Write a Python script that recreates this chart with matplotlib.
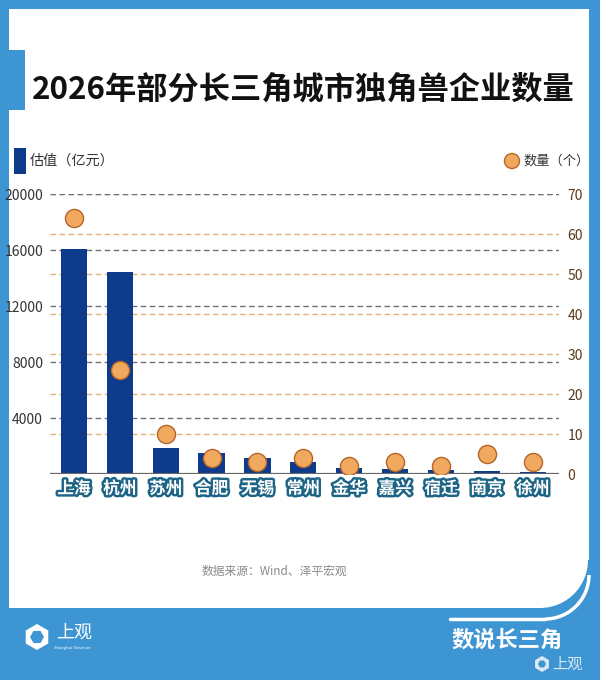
import matplotlib.pyplot as plt
import matplotlib.patheffects as pe
from matplotlib.patches import Rectangle, Circle, Arc, RegularPolygon
from matplotlib.transforms import blended_transform_factory

plt.rcParams['font.family'] = ['Noto Sans CJK SC', 'DejaVu Sans']

cities = ['上海', '杭州', '苏州', '合肥', '无锡', '常州', '金华', '嘉兴', '宿迁', '南京', '徐州']
valuation = [16050, 14400, 1850, 1500, 1150, 870, 430, 360, 290, 220, 150]  # 亿元
counts = [64, 26, 10, 4, 3, 4, 2, 3, 2, 5, 3]  # 个
left_ticks = [4000, 8000, 12000, 16000, 20000]
right_ticks = [0, 10, 20, 30, 40, 50, 60, 70]

BLUE = '#3d95d4'
NAVY = '#0d3a8a'
ORANGE = '#f0a95e'
ORANGE_EDGE = '#b5652a'
GRID_GRAY = '#707070'
GRID_ORANGE = '#e3b27a'

W, H = 600, 680
fig = plt.figure(figsize=(6, 6.8), dpi=100, facecolor=BLUE)

# background layer in pixel coordinates
bg = fig.add_axes([0, 0, 1, 1])
bg.set_xlim(0, W)
bg.set_ylim(H, 0)
bg.axis('off')
bg.set_facecolor(BLUE)
bg.add_patch(Rectangle((9, 9), 531, 599, color='white', lw=0))
bg.add_patch(Rectangle((9, 9), 580, 551, color='white', lw=0))
bg.add_patch(Circle((540, 560), 48, color='white', lw=0))
bg.add_patch(Rectangle((0, 50), 25, 60, color=BLUE, lw=0))
# swoosh under the panel corner
bg.plot([450, 545], [619, 619], color='white', lw=2.5, solid_capstyle='round')
bg.add_patch(Arc((545, 575), 88, 88, theta1=0, theta2=90, color='white', lw=2.5))

bg.text(303, 90, '2026年部分长三角城市独角兽企业数量', ha='center', va='center',
        fontsize=22.5, fontweight='black', color='#111111')

# legends
bg.add_patch(Rectangle((14, 148), 12, 26, color=NAVY, lw=0))
bg.text(30, 161, '估值（亿元）', ha='left', va='center', fontsize=10.2, color='#333333')
bg.add_patch(Circle((512, 161), 7.5, facecolor=ORANGE, edgecolor=ORANGE_EDGE, lw=1))
bg.text(523, 161, '数量（个）', ha='left', va='center', fontsize=9.5, color='#333333')

bg.text(274, 571, '数据来源：Wind、泽平宏观', ha='center', va='center',
        fontsize=8.5, color='#8a8a8a')

# footer
bg.add_patch(RegularPolygon((37, 637), 6, radius=13, color='white', lw=0))
bg.add_patch(RegularPolygon((37, 637), 6, radius=7, orientation=0.5, color=BLUE, lw=0))
bg.text(56, 633, '上观', ha='left', va='center', fontsize=13, color='white')
bg.text(54, 648, 'Shanghai Observer', ha='left', va='center', fontsize=3, color='white')
bg.text(507, 640, '数说长三角', ha='center', va='center', fontsize=16,
        fontweight='bold', color='white')
bg.add_patch(RegularPolygon((542, 664), 6, radius=8, color='#d9e9f5', lw=0))
bg.add_patch(RegularPolygon((542, 664), 6, radius=4, orientation=0.5, color=BLUE, lw=0))
bg.text(552, 664, '上观', ha='left', va='center', fontsize=11, color='#d9e9f5')

# chart
ax = fig.add_axes([50 / W, (H - 474) / H, 509 / W, 280 / H])
ax2 = ax.twinx()
x = list(range(len(cities)))

ax.bar(x, valuation, width=0.57, color=NAVY, zorder=3)
ax2.scatter(x, counts, s=170, facecolor=ORANGE, edgecolor=ORANGE_EDGE, lw=1, zorder=4)

ax.set_xlim(-0.52, 10.57)
ax.set_ylim(0, 20000)
ax2.set_ylim(0, 70)

# grid lines: orange for right axis, gray for left, both behind bars
trans_r = blended_transform_factory(ax.transAxes, ax2.transData)
for v in right_ticks[1:]:
    ax.plot([0, 1], [v, v], transform=trans_r, color=GRID_ORANGE, lw=1,
            ls=(0, (4, 2.5)), zorder=1)
for v in left_ticks:
    ax.axhline(v, color=GRID_GRAY, lw=1, ls=(0, (4, 2.5)), zorder=2)
ax.axhline(0, color='#666666', lw=1.6, zorder=4)

ax.set_yticks(left_ticks)
ax.set_yticklabels([str(v) for v in left_ticks])
ax2.set_yticks(right_ticks)
ax2.set_yticklabels([str(v) for v in right_ticks])
ax.tick_params(axis='y', length=0, pad=5, labelsize=10, labelcolor='#333333')
ax2.tick_params(axis='y', length=0, pad=6, labelsize=10, labelcolor='#5a3a1e')

ax.set_xticks(x)
ax.set_xticklabels(cities)
ax.tick_params(axis='x', length=0, pad=4)
for lab in ax.get_xticklabels():
    lab.set_fontsize(12)
    lab.set_fontweight('bold')
    lab.set_color('white')
    lab.set_path_effects([pe.Stroke(linewidth=3.5, foreground='#1d6486'), pe.Normal()])

for a in (ax, ax2):
    a.patch.set_visible(False)
    for s in a.spines.values():
        s.set_visible(False)

fig.savefig('out.png', dpi=100, facecolor=BLUE)
